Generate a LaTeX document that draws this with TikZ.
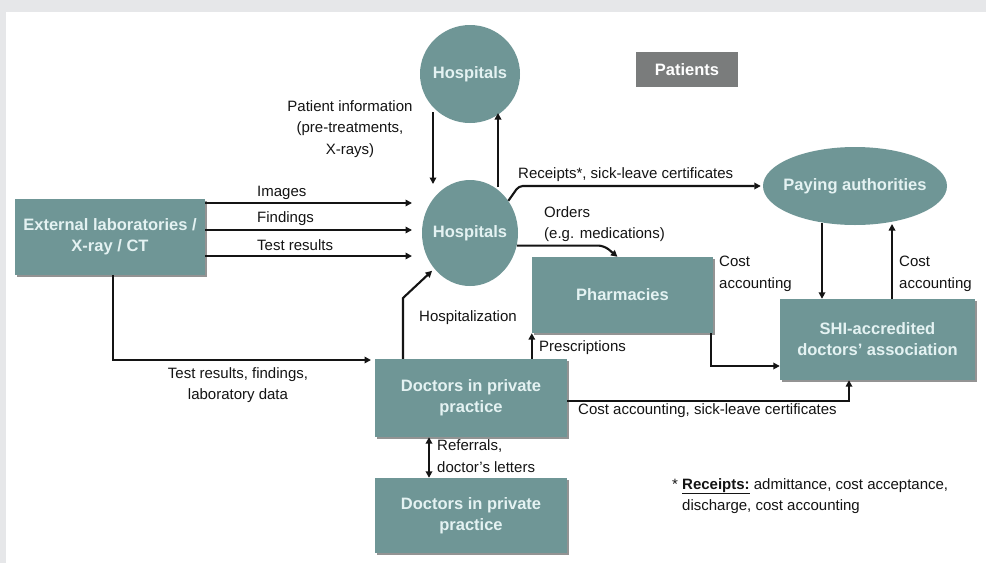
\documentclass[tikz,border=0pt]{standalone}
\usepackage{fontspec}
\setmainfont{Liberation Sans}
\usetikzlibrary{arrows.meta,shadows,shapes.geometric}
\definecolor{teal1}{RGB}{111,150,150}
\definecolor{gray1}{RGB}{122,124,124}
\definecolor{ntext}{RGB}{228,242,242}
\definecolor{bgc}{RGB}{230,231,233}
\definecolor{ink}{RGB}{20,20,20}
\begin{document}
\begin{tikzpicture}[x=1pt,y=-1pt,
  box/.style={rectangle, fill=teal1, text=ntext, font=\bfseries\fontsize{16.5pt}{21pt}\selectfont, align=center, inner sep=0pt,
    drop shadow={shadow xshift=2pt,shadow yshift=-2pt,fill=black!60,opacity=0.7}},
  oval/.style={ellipse, fill=teal1, text=ntext, font=\bfseries\fontsize{16.5pt}{21pt}\selectfont, inner sep=0pt},
  lbl/.style={font=\fontsize{15pt}{21.5pt}\selectfont, text=ink, inner sep=0pt, align=left},
  arr/.style={draw=ink, line width=2.1pt, -{Triangle[length=6.5pt,width=6.5pt]}},
  arrtwo/.style={draw=ink, line width=2.1pt, {Triangle[length=6.5pt,width=6.5pt]}-{Triangle[length=6.5pt,width=6.5pt]}}
]
\useasboundingbox (0,0) rectangle (986,563);
\fill[bgc] (0,0) rectangle (986,563);
\fill[white] (6,12) rectangle (986,563);

% nodes
\node[box, minimum width=190pt, minimum height=76pt] (ext) at (110,237) {External laboratories /\\X-ray / CT};
\node[oval, minimum width=100pt, minimum height=98pt] (ht) at (470,74) {\makebox[0pt]{Hospitals}};
\node[oval, minimum width=96pt, minimum height=106pt] (hm) at (470,233) {\makebox[0pt]{Hospitals}};
\node[rectangle, fill=gray1, text=white, font=\bfseries\fontsize{16.5pt}{21pt}\selectfont, minimum width=102pt, minimum height=35pt, inner sep=0pt] (pat) at (687,69.5) {Patients};
\node[oval, minimum width=184pt, minimum height=78pt] (pay) at (855,186) {\makebox[0pt]{Paying authorities}};
\node[box, minimum width=181pt, minimum height=76pt] (pharm) at (622.5,295) {Pharmacies};
\node[box, minimum width=195pt, minimum height=81pt] (shi) at (877.5,339.5) {SHI-accredited\\doctors' association};
\node[box, minimum width=192pt, minimum height=78pt] (doc1) at (471,398) {Doctors in private\\practice};
\node[box, minimum width=192pt, minimum height=75pt] (doc2) at (471,515.5) {Doctors in private\\practice};

% helper coordinates
\coordinate (i1) at (412,203);
\coordinate (i2) at (412,230);
\coordinate (i3) at (412,256);
\coordinate (ld) at (113,360);
\coordinate (ldend) at (371,360);
\coordinate (h1a) at (433,112);
\coordinate (h1b) at (433,184);
\coordinate (h2a) at (498,187);
\coordinate (h2b) at (498,113);
\coordinate (hz) at (403,298);
\coordinate (ob) at (604,246);
\coordinate (pa1) at (822,223);
\coordinate (sa1) at (892,224);

% connectors
\draw[arr] (ext.east |- i1) -- (i1);
\draw[arr] (ext.east |- i2) -- (i2);
\draw[arr] (ext.east |- i3) -- (i3);
\draw[arr] (ext.south -| ld) -- (ld) -- (ldend);
\draw[arr] (h1a) -- (h1b);
\draw[arr] (h2a) -- (h2b);
\draw[arr, shorten >=3pt] (doc1.north -| hz) -- (hz) -- (hm.225);
\draw[arr] (doc1.north -| pharm.south west) -- (pharm.south west);
\draw[arr, rounded corners=6pt] (hm.-15) -- (hm.-15 -| ob) -- ([xshift=-5pt]pharm.north);
\draw[arr, rounded corners=4pt] (hm.40) -- ([xshift=-244pt]pay.west) -- ([xshift=-2pt]pay.west);
\draw[arr] (pa1) -- (pa1 |- shi.north);
\draw[arr] (shi.north -| sa1) -- (sa1);
\draw[arr] ([xshift=-2pt]pharm.south east) |- ([yshift=-26.5pt]shi.west);
\draw[arr] ([yshift=-3pt]doc1.east) -| ([xshift=-28.5pt]shi.south);
\draw[arrtwo] ([xshift=-42pt]doc1.south) -- ([xshift=-42pt]doc2.north);

% labels
\node[lbl, anchor=west] (limg) at (257,193) {Images};
\node[lbl, anchor=west] (lfind) at (257,219) {Findings};
\node[lbl, anchor=west] (ltest) at (257,245) {Test results};
\node[lbl, align=center] (lpat) at (350,129) {Patient information\\(pre-treatments,\\X-rays)};
\node[lbl, align=center] (llab) at (238,385) {Test results, findings,\\laboratory data};
\node[lbl] (lhosp) at (468,318) {Hospitalization};
\node[lbl, anchor=west] (lpres) at (539,348) {Prescriptions};
\node[lbl, anchor=west] (lord) at (544,224) {Orders\\(e.g. medications)};
\node[lbl, anchor=west] (lrec) at (518,175) {Receipts*, sick-leave certificates};
\node[lbl, anchor=west] (lcost1) at (719,274) {Cost\\accounting};
\node[lbl, anchor=west] (lcost2) at (899,274) {Cost\\accounting};
\node[lbl, anchor=west] (lcost3) at (578,411) {Cost accounting, sick-leave certificates};
\node[lbl, anchor=west] (lref) at (437,456) {Referrals,\\doctor's letters};
\node[lbl, anchor=west] (lfoot) at (672,496) {* \underline{\textbf{Receipts:}} admittance, cost acceptance,\\\hphantom{* }discharge, cost accounting};
\end{tikzpicture}
\end{document}
